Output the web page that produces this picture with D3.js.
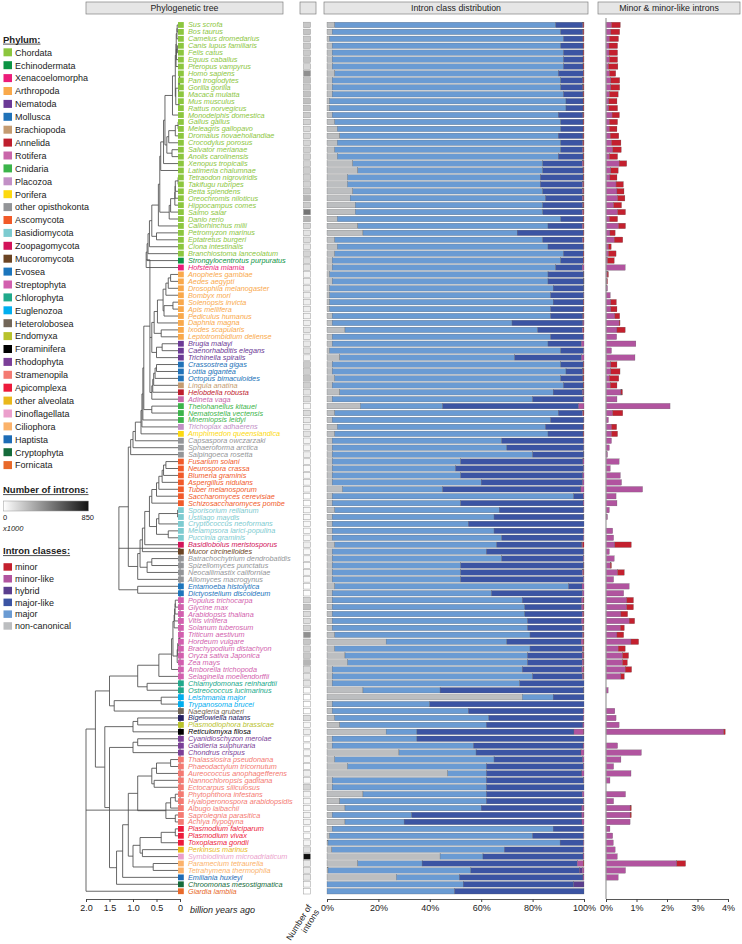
<!DOCTYPE html>
<html><head><meta charset="utf-8">
<script src="https://cdn.jsdelivr.net/npm/d3@7"></script>
<style>body{margin:0;background:#fff}svg{font-family:"Liberation Sans",Arial,sans-serif}</style>
</head><body><svg id="c" width="742" height="944"></svg>
<script>
const species = ["Sus scrofa","Bos taurus","Camelus dromedarius","Canis lupus familiaris","Felis catus","Equus caballus","Pteropus vampyrus","Homo sapiens","Pan troglodytes","Gorilla gorilla","Macaca mulatta","Mus musculus","Rattus norvegicus","Monodelphis domestica","Gallus gallus","Meleagris gallopavo","Dromaius novaehollandiae","Crocodylus porosus","Salvator merianae","Anolis carolinensis","Xenopus tropicalis","Latimeria chalumnae","Tetraodon nigroviridis","Takifugu rubripes","Betta splendens","Oreochromis niloticus","Hippocampus comes","Salmo salar","Danio rerio","Callorhinchus milii","Petromyzon marinus","Eptatretus burgeri","Ciona intestinalis","Branchiostoma lanceolatum","Strongylocentrotus purpuratus","Hofstenia miamia","Anopheles gambiae","Aedes aegypti","Drosophila melanogaster","Bombyx mori","Solenopsis invicta","Apis mellifera","Pediculus humanus","Daphnia magna","Ixodes scapularis","Leptotrombidium deliense","Brugia malayi","Caenorhabditis elegans","Trichinella spiralis","Crassostrea gigas","Lottia gigantea","Octopus bimaculoides","Lingula anatina","Helobdella robusta","Adineta vaga","Thelohanellus kitauei","Nematostella vectensis","Mnemiopsis leidyi","Trichoplax adhaerens","Amphimedon queenslandica","Capsaspora owczarzaki","Sphaeroforma arctica","Salpingoeca rosetta","Fusarium solani","Neurospora crassa","Blumeria graminis","Aspergillus nidulans","Tuber melanosporum","Saccharomyces cerevisiae","Schizosaccharomyces pombe","Sporisorium reilianum","Ustilago maydis","Cryptococcus neoformans","Melampsora larici-populina","Puccinia graminis","Basidiobolus meristosporus","Mucor circinelloides","Batrachochytrium dendrobatidis","Spizellomyces punctatus","Neocallimastix californiae","Allomyces macrogynus","Entamoeba histolytica","Dictyostelium discoideum","Populus trichocarpa","Glycine max","Arabidopsis thaliana","Vitis vinifera","Solanum tuberosum","Triticum aestivum","Hordeum vulgare","Brachypodium distachyon","Oryza sativa Japonica","Zea mays","Amborella trichopoda","Selaginella moellendorffii","Chlamydomonas reinhardtii","Ostreococcus lucimarinus","Leishmania major","Trypanosoma brucei","Naegleria gruberi","Bigelowiella natans","Plasmodiophora brassicae","Reticulomyxa filosa","Cyanidioschyzon merolae","Galdieria sulphuraria","Chondrus crispus","Thalassiosira pseudonana","Phaeodactylum tricornutum","Aureococcus anophagefferens","Nannochloropsis gaditana","Ectocarpus siliculosus","Phytophthora infestans","Hyaloperonospora arabidopsidis","Albugo laibachii","Saprolegnia parasitica","Achlya hypogyna","Plasmodium falciparum","Plasmodium vivax","Toxoplasma gondii","Perkinsus marinus","Symbiodinium microadriaticum","Paramecium tetraurelia","Tetrahymena thermophila","Emiliania huxleyi","Chroomonas mesostigmatica","Giardia lamblia"];

const speciesPhylum = [].concat(
  Array(34).fill("Chordata"), ["Echinodermata","Xenacoelomorpha"], Array(10).fill("Arthropoda"),
  Array(3).fill("Nematoda"), Array(3).fill("Mollusca"), ["Brachiopoda","Annelida","Rotifera","Cnidaria","Cnidaria","Cnidaria","Placozoa","Porifera"],
  Array(3).fill("other opisthokonta"), Array(7).fill("Ascomycota"), Array(5).fill("Basidiomycota"),
  ["Zoopagomycota","Mucoromycota"], Array(4).fill("other opisthokonta"), ["Evosea","Evosea"],
  Array(12).fill("Streptophyta"), ["Chlorophyta","Chlorophyta","Euglenozoa","Euglenozoa","Heterolobosea","Cercozoa","Endomyxa","Foraminifera"],
  Array(3).fill("Rhodophyta"), Array(10).fill("Stramenopila"), Array(3).fill("Apicomplexa"),
  ["other alveolata","Dinoflagellata","Ciliophora","Ciliophora","Haptista","Cryptophyta","Fornicata"]);

const phylumNames = ["Chordata","Echinodermata","Xenacoelomorpha","Arthropoda","Nematoda","Mollusca","Brachiopoda","Annelida","Rotifera","Cnidaria","Placozoa","Porifera","other opisthokonta","Ascomycota","Basidiomycota","Zoopagomycota","Mucoromycota","Evosea","Streptophyta","Chlorophyta","Euglenozoa","Heterolobosea","Endomyxa","Foraminifera","Rhodophyta","Stramenopila","Apicomplexa","other alveolata","Dinoflagellata","Ciliophora","Haptista","Cryptophyta","Fornicata"];
const phylumColors = ["#8cc63e","#0b9444","#ec1c7a","#f9a94b","#6b3996","#2072b8","#c49b71","#be1e2d","#c966aa","#3bb44a","#c290c6","#fcd90f","#939598","#f15a29","#7dcbd0","#d2145a","#6b4423","#1c75bc","#d25fae","#20a98b","#00aeef","#726658","#b8c22b","#000000","#7b3f98","#f47a72","#ed1a3b","#e9b81c","#eb9fcc","#fbb26a","#1d6cb6","#146b3a","#e8692a"];
const extraPhylum = {name:"Cercozoa", color:"#262262"};

// intron class shares (% of introns)
const nonCanonical = [3,2,1,2,2,2,2,3,2,2,2,1,1,2,3,4,5,4,3,4,10,12,8,8,10,9,11,11,4,12,14,3,4,3,2,2,1,2,1,1,1,1,2,2,7,2,2,1,5,2,2,3,2,5,2,13,3,2,4,3,2,2,2,2,2,2,2,6,2,2,3,2,2,2,2,3,2,2,2,2,2,3,2,2,2,2,2,2,3,23,3,7,8,2,2,2,14,76,2,2,3,5,23,2,2,28,3,8,47,2,2,14,5,7,2,7,2,1,0.4,1.9,44,12,0.4,27,0,0];
const major = [86,89,91,89,90,90,90,87,89,89,90,92,92,88,88,87,85,87,88,86,74,72,75,75,74,76,73,73,87,74,60,81,82,89,89,87,85,84,87,86,87,86,85,70,75,85,84,90,68,89,91,88,90,83,78,32,87,85,81,83,66,68,78,50,48,50,58,39,94,50,64,63,53,63,66,63,60,66,50,50,50,91,62,74,75,75,76,76,76,47,76,71,70,74,78,73,30,12,38,53,60,57,12,33,55,30,62,54,15,60,60,48,57,53,31,23,86,79,90.3,67.1,16.7,25,55.6,24.5,53,49.6];
const majorLike = [10.53,8.55,7.59,8.62,7.62,7.62,7.61,9.68,8.55,8.55,7.6,6.64,6.62,9.56,8.62,8.64,9.58,8.51,8.5,9.62,15.32,15.6,16.64,16.43,15.41,14.38,15.49,15.36,8.62,13.36,25.7,15.45,13.83,7.67,8.73,10.37,13.92,13.95,11.95,12.86,11.66,12.64,12.55,27.54,17.37,12.65,13.02,8.82,26.05,8.64,6.54,8.58,7.64,11.46,19.64,52.9,9.45,12.92,14.65,13.62,31.82,29.89,19.95,47.57,49.86,47.53,39.49,53.8,3.67,47.64,32.89,34.95,45,34.78,31.75,33.17,37.89,31.73,47.82,47.4,47.75,5.24,35.42,23.1,22.1,22.29,21.06,21.4,20.42,28.93,20.37,21.26,21.3,23.16,19.4,25,55.93,12,60,44.71,36.67,37.57,61.09,65,42.62,40.84,34.51,37.75,37.18,37.87,38,37.36,37.75,39.17,66.17,69.21,11.87,19.78,9.06,30.7,38.93,60.39,42.16,48.1,43,50.4];
const hybrid = [0,0,0,0,0,0,0,0,0,0,0,0,0,0,0,0,0,0,0,0,0,0,0,0,0,0,0,0,0,0,0,0,0,0,0,0,0,0,0,0,0,0,0,0,0,0,0,0,0,0,0,0,0,0,0,0,0,0,0,0,0,0,0,0,0,0,0,0,0,0,0,0,0,0,0,0,0,0,0,0,0,0,0,0,0,0,0,0,0,0,0,0,0,0,0,0,0,0,0,0,0,0,0,0,0,0,0,0,0,0,0,0,0,0,0,0,0,0,0,0,0,0,1.2,0,4,0];
const minorLike = [0.18,0.16,0.11,0.10,0.10,0.11,0.08,0.11,0.16,0.16,0.11,0.09,0.09,0.20,0.11,0.11,0.14,0.18,0.22,0.11,0.43,0.16,0.13,0.33,0.36,0.38,0.25,0.38,0.11,0.41,0.13,0.27,0.08,0.08,0.05,0.63,0.04,0.03,0.05,0.14,0.16,0.16,0.29,0.43,0.36,0.35,0.98,0.18,0.95,0.16,0.16,0.11,0.14,0.49,0.36,2.1,0.22,0.08,0.18,0.18,0.18,0.11,0.05,0.43,0.14,0.47,0.51,1.2,0.33,0.36,0.11,0.05,0,0.22,0.25,0.29,0.11,0.27,0.14,0.38,0.25,0.76,0.58,0.68,0.68,0.49,0.76,0.47,0.36,0.82,0.40,0.54,0.54,0.63,0.49,0,0.07,0,0,0.29,0.33,0.43,3.86,0,0.38,1.16,0.49,0.25,0.82,0.13,0,0.64,0.25,0.79,0.79,0.79,0.13,0.22,0.24,0.30,0.37,2.32,0.64,0.40,0,0];
const minor = [0.29,0.29,0.30,0.28,0.28,0.27,0.31,0.21,0.29,0.29,0.29,0.27,0.29,0.24,0.27,0.25,0.28,0.31,0.28,0.27,0.25,0.24,0.23,0.24,0.23,0.24,0.26,0.26,0.27,0.23,0.17,0.28,0.09,0.25,0.22,0,0.04,0.02,0,0,0.18,0.20,0.16,0.03,0.27,0,0,0,0,0.20,0.30,0.31,0.22,0.05,0,0,0.33,0,0.17,0.20,0,0,0,0,0,0,0,0,0,0,0,0,0,0,0,0.54,0,0,0.04,0.22,0,0,0,0.22,0.22,0.22,0.18,0.13,0.22,0.25,0.23,0.20,0.16,0.21,0.11,0,0,0,0,0,0,0,0.05,0,0,0,0,0,0,0,0,0,0,0.04,0.04,0,0,0,0,0,0,0.29,0,0,0,0];
// number of introns (thousands)
const intronCount = [200,210,190,200,190,210,150,400,220,200,220,230,210,190,160,140,150,150,170,170,160,180,170,160,200,260,190,500,280,150,100,120,90,150,120,100,40,50,60,50,60,60,40,60,90,50,80,110,50,190,170,210,170,100,130,30,130,80,60,100,40,40,60,20,15,20,25,30,5,8,20,20,25,15,20,60,20,20,15,30,20,5,10,160,230,130,120,160,400,200,160,200,260,130,90,100,10,0,0,5,120,30,60,1,10,30,20,10,60,20,150,40,30,20,40,40,10,10,40,110,850,80,80,90,20,1];

// tree: leaves are species indices, internal node labels are ages (billion years)
const treeMammals = "(((((0,1)0.06,2)0.065,((3,4)0.055,5)0.078)0.08,6)0.085,((((7,8)0.007,9)0.009,10)0.03,(11,12)0.02)0.09)0.1";
const treeVert = `((((((((((${treeMammals},13)0.16,((((14,15)0.04,16)0.1,17)0.24,(18,19)0.17)0.28)0.32,20)0.35,21)0.41,((((((22,23)0.04,24)0.1,25)0.105,26)0.11,27)0.2,28)0.23)0.43,29)0.46,(30,31)0.5)0.6,32)0.65,33)0.68`;
const treeProto = "(((((((36,37)0.2,38)0.25,39)0.3,((40,41)0.15,42)0.34)0.36,43)0.48,(44,45)0.4)0.55,((46,47)0.38,48)0.5)0.6,(((((49,50)0.5,51)0.53,52)0.56,53)0.58,54)0.6)0.64";
const treeHolozoa = `((((((((((${treeVert},34)0.7,35)0.72,${treeProto})0.74,(55,56)0.6)0.77,57)0.79,58)0.81,59)0.83,60)0.95,61)1.0,62)1.05`;
const treeFungi = "(((((((((((63,64)0.3,65)0.35,66)0.38,67)0.45,68)0.5,69)0.6,(((70,71)0.05,72)0.45,(73,74)0.25)0.5)0.65,75)0.75,76)0.8,((77,78)0.6,79)0.7)0.85,80)0.9";
const treePlants = "((((((((83,84)0.1,85)0.105,86)0.115,87)0.125,((((88,89)0.012,90)0.03,91)0.05,92)0.06)0.15,93)0.18,94)0.45,(95,96)0.7)0.9";
const treeSAR = "((((((106,107)0.2,108)0.5,(109,110)0.55)0.6,(((111,112)0.1,113)0.2,(114,115)0.1)0.3)0.9,((((116,117)0.1,118)0.4,(119,120)0.8)0.85,(121,122)0.57)1.0)1.1";
const treeNewick = `((((${treeHolozoa},${treeFungi})1.1,(81,82)0.9)1.3,(((${treePlants},((97,98)0.4,99)1.4)1.5,(((100,101)0.9,102)1.0,(((103,104)0.9,105)1.0,((${treeSAR},123)1.22,124)1.35)1.4)1.5)1.6)1.8,125)2.0`;

const timeTicks = [2,1.5,1,0.5,0];
const pctTicks = [0,20,40,60,80,100];
const minorTicks = [0,1,2,3,4];
const classNames = ["minor","minor-like","hybrid","major-like","major","non-canonical"];
const classColors = ["#c4202e","#b1549f","#5a3e8e","#3b54a3","#6a9bd3","#bcbec0"];

// ---------- drawing ----------
const svg = d3.select("#c");
const colorOf = p => p === extraPhylum.name ? extraPhylum.color : phylumColors[phylumNames.indexOf(p)];

const y = d3.scaleBand().domain(d3.range(species.length)).range([21.5, 894.7]).paddingInner(0.2).paddingOuter(0.1);
const bw = y.bandwidth();
const yc = i => y(i) + bw / 2;

const xTree = d3.scaleLinear().domain([2, 0]).range([86, 180]);
const xPct = d3.scaleLinear().domain([0, 100]).range([327, 584]);
const xMin = d3.scaleLinear().domain([0, 4]).range([606, 728]);
const axisY = 899;

// headers
const headers = [
  {t:"Phylogenetic tree", x0:86, x1:283},
  {t:"", x0:300, x1:316},
  {t:"Intron class distribution", x0:324, x1:588},
  {t:"Minor & minor-like introns", x0:598, x1:740}];
const hg = svg.append("g");
hg.selectAll("rect").data(headers).join("rect")
  .attr("x", d => d.x0).attr("y", 2).attr("width", d => d.x1 - d.x0).attr("height", 12)
  .attr("fill", "#e6e6e6").attr("stroke", "#808080").attr("stroke-width", 0.7);
hg.selectAll("text").data(headers).join("text")
  .attr("x", d => (d.x0 + d.x1) / 2).attr("y", 11.3).attr("text-anchor", "middle")
  .attr("font-size", 8.8).attr("fill", "#222").text(d => d.t);

// tree
function parseNewick(s) {
  let i = 0;
  function node() {
    if (s[i] === "(") {
      i++;
      const ch = [node()];
      while (s[i] === ",") { i++; ch.push(node()); }
      i++;
      let num = "";
      while (i < s.length && /[0-9.]/.test(s[i])) num += s[i++];
      return {children: ch, age: +num};
    }
    let num = "";
    while (/[0-9]/.test(s[i])) num += s[i++];
    return {leaf: +num, age: 0};
  }
  return node();
}
const root = d3.hierarchy(parseNewick(treeNewick), d => d.children);
root.eachAfter(n => {
  if (!n.children) n.yy = yc(n.data.leaf);
  else n.yy = (n.children[0].yy + n.children[n.children.length - 1].yy) / 2;
});
const tg = svg.append("g").attr("stroke", "#4d4d4d").attr("stroke-width", 0.85).attr("fill", "none");
tg.selectAll("path.h").data(root.descendants().filter(n => n.parent)).join("path")
  .attr("d", n => `M${xTree(n.parent.data.age)},${n.yy}H${xTree(n.data.age)}`);
tg.selectAll("path.v").data(root.descendants().filter(n => n.children)).join("path")
  .attr("d", n => `M${xTree(n.data.age)},${n.children[0].yy}V${n.children[n.children.length-1].yy}`);

// leaf squares + names
const lg = svg.append("g");
lg.selectAll("rect").data(species).join("rect")
  .attr("x", 178).attr("y", (d, i) => yc(i) - 2.9).attr("width", 5.8).attr("height", 5.8)
  .attr("fill", (d, i) => colorOf(speciesPhylum[i]));
lg.selectAll("text").data(species).join("text")
  .attr("x", 188).attr("y", (d, i) => yc(i) + 2.5)
  .attr("font-size", 7.3).attr("font-style", "italic")
  .attr("fill", (d, i) => colorOf(speciesPhylum[i])).text(d => d);

// number of introns
const gray = d3.scaleLinear().domain([0, 850]).range(["#ffffff", "#111111"]);
svg.append("g").selectAll("rect").data(intronCount).join("rect")
  .attr("x", 303.5).attr("y", (d, i) => y(i)).attr("width", 7).attr("height", bw)
  .attr("fill", d => gray(d)).attr("stroke", "#9a9a9a").attr("stroke-width", 0.5);

// stacked intron class bars
const rows = species.map((s, i) => ({i, nc: nonCanonical[i], major: major[i], majorLike: majorLike[i], hybrid: hybrid[i], minorLike: minorLike[i], minor: minor[i]}));
const keys = ["nc","major","majorLike","hybrid","minorLike","minor"];
const keyColor = {nc:classColors[5], major:classColors[4], majorLike:classColors[3], hybrid:classColors[2], minorLike:classColors[1], minor:classColors[0]};
const stack = d3.stack().keys(keys).offset(d3.stackOffsetExpand)(rows);
svg.append("g").selectAll("g").data(stack).join("g").attr("fill", s => keyColor[s.key])
  .selectAll("rect").data(s => s).join("rect")
  .attr("x", d => xPct(d[0] * 100)).attr("width", d => Math.max(0, xPct(d[1] * 100) - xPct(d[0] * 100)))
  .attr("y", d => y(d.data.i)).attr("height", bw)
  .attr("stroke", "#5a5a5a").attr("stroke-width", 0.25);

// minor panel
const mstack = d3.stack().keys(["minorLike","minor"])(rows);
svg.append("g").selectAll("g").data(mstack).join("g").attr("fill", s => keyColor[s.key])
  .selectAll("rect").data(s => s.filter(d => d[1] - d[0] > 0)).join("rect")
  .attr("x", d => xMin(d[0])).attr("width", d => xMin(d[1]) - xMin(d[0]))
  .attr("y", d => y(d.data.i)).attr("height", bw)
  .attr("stroke", "#5a5a5a").attr("stroke-width", 0.25);
svg.append("line").attr("x1", xMin(0)).attr("x2", xMin(0)).attr("y1", 18).attr("y2", axisY)
  .attr("stroke", "#9a9a9a").attr("stroke-width", 1.2);

// axes
function styleAxis(g) {
  g.select(".domain").attr("stroke", "#444").attr("stroke-width", 0.9);
  g.selectAll(".tick line").attr("stroke", "#444");
  g.selectAll(".tick text").attr("font-size", 9).attr("fill", "#222").attr("font-family", '"Liberation Sans",Arial,sans-serif');
}
svg.append("g").attr("transform", `translate(0,${axisY})`)
  .call(d3.axisBottom(xTree).tickValues(timeTicks).tickSize(3).tickSizeOuter(0).tickFormat(d => d === 0 ? "0" : d3.format(".1f")(d)))
  .call(styleAxis);
svg.append("g").attr("transform", `translate(0,${axisY})`)
  .call(d3.axisBottom(xPct).tickValues(pctTicks).tickSize(3).tickSizeOuter(0).tickFormat(d => d + "%"))
  .call(styleAxis);
svg.append("g").attr("transform", `translate(0,${axisY})`)
  .call(d3.axisBottom(xMin).tickValues(minorTicks).tickSize(3).tickSizeOuter(0).tickFormat(d => d + "%"))
  .call(styleAxis);
svg.append("text").attr("x", 190).attr("y", axisY + 14).attr("font-size", 9).attr("font-style", "italic").attr("fill", "#222").text("billion years ago");
const nt = svg.append("text").attr("transform", "translate(312,907) rotate(-58)").attr("text-anchor", "end").attr("font-size", 8.6).attr("fill", "#222");
nt.append("tspan").attr("x", 0).attr("dy", 0).text("Number of");
nt.append("tspan").attr("x", 0).attr("dy", 9).text("introns");

// legends
const leg = svg.append("g");
function title(txt, yy) {
  const t = leg.append("text").attr("x", 3).attr("y", yy).attr("font-size", 9.5).attr("font-weight", "bold").attr("fill", "#222").text(txt);
  const w = t.node().getComputedTextLength();
  leg.append("line").attr("x1", 3).attr("x2", 3 + w).attr("y1", yy + 1.6).attr("y2", yy + 1.6).attr("stroke", "#222").attr("stroke-width", 0.8);
}
title("Phylum:", 42.5);
const pl = leg.append("g").selectAll("g").data(phylumNames).join("g")
  .attr("transform", (d, i) => `translate(0,${52.3 + i * 12.9})`);
pl.append("rect").attr("x", 3.5).attr("y", -4).attr("width", 8.5).attr("height", 8).attr("fill", (d, i) => phylumColors[i]);
pl.append("text").attr("x", 15).attr("y", 3.3).attr("font-size", 9).attr("fill", "#222").text(d => d);

title("Number of introns:", 493);
const grad = svg.append("defs").append("linearGradient").attr("id", "gg");
grad.append("stop").attr("offset", "0%").attr("stop-color", gray(0));
grad.append("stop").attr("offset", "100%").attr("stop-color", gray(850));
leg.append("rect").attr("x", 3.5).attr("y", 501).attr("width", 85).attr("height", 10).attr("fill", "url(#gg)").attr("stroke", "#999").attr("stroke-width", 0.5);
leg.append("text").attr("x", 3).attr("y", 520).attr("font-size", 7.5).attr("fill", "#222").text("0");
leg.append("text").attr("x", 94).attr("y", 520).attr("text-anchor", "end").attr("font-size", 7.5).attr("fill", "#222").text("850");
leg.append("text").attr("x", 3).attr("y", 531).attr("font-size", 7.5).attr("font-style", "italic").attr("fill", "#222").text("x1000");

title("Intron classes:", 554);
const cl = leg.append("g").selectAll("g").data(classNames).join("g")
  .attr("transform", (d, i) => `translate(0,${567 + i * 11.8})`);
cl.append("rect").attr("x", 3.5).attr("y", -3.8).attr("width", 8.5).attr("height", 7.5).attr("fill", (d, i) => classColors[i]);
cl.append("text").attr("x", 15).attr("y", 3.2).attr("font-size", 9).attr("fill", "#222").text(d => d);
</script></body></html>
